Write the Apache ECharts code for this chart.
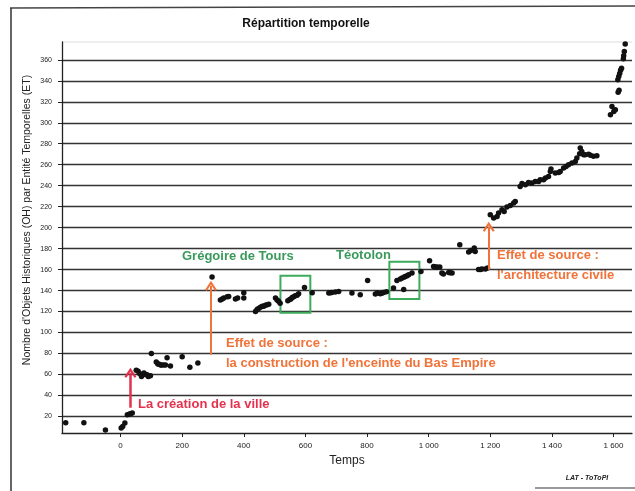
<!DOCTYPE html>
<html><head><meta charset="utf-8">
<script src="https://cdn.jsdelivr.net/npm/echarts@6.0.0/dist/echarts.min.js"></script>
<style>html,body{margin:0;padding:0;background:#fff}#c{width:635px;height:491px}</style>
</head><body><div id="c"></div>
<script>
// Temps (years) and Nombre d'OH per ET
const timeValues = [-178,-119,-49,2,7,14,22,28,32,38,
 51,57,62,68,72,76,80,86,90,97,
 100,116,121,124,130,133,140,146,151,162,
 200,225,251,
 297,324,330,335,346,351,373,380,400,400,
 438,443,448,454,460,465,470,476,481,
 503,508,513,518,
 543,549,553,557,562,567,573,578,597,622,
 676,681,686,697,708,
 751,778,802,
 827,834,843,848,854,863,
 886,897,908,914,919,921,924,930,935,946,
 975,1003,1016,1022,1027,1036,
 1043,1048,1065,1070,1076,
 1101,1130,1137,1148,1151,
 1162,1168,1173,1184,1191,
 1200,1211,1222,1227,1238,1245,1254,1265,1276,1281,
 1297,1303,1314,1324,1335,1346,1357,1362,1373,1379,1389,1395,1397,
 1411,1422,1427,1438,1446,1454,1465,1476,1481,1490,1492,1497,
 1503,1508,1519,1525,1535,1546,
 1590,1595,1601,1606,1615,1618,
 1614,1617,1620,1623,1626,
 1632,1633,1635,1638];
const objectCounts = [14,14,7,9,10.5,13.7,21.6,22,22.6,23.3,
 64,63,61,58,60,61.4,60,59.8,58,58.8,
 80,72,70,70,69,69,69,69,76,68,
 77,67,71,
 153,131,132,133,134,134.4,132,133,138,133,
 120,122,123,124,125,125,126,126.5,127,
 133,131,129.7,128,
 130.3,131.5,132,133.5,134,135,135.5,137,143,138,
 137.7,138,138.2,138.6,139.2,
 137.7,136,149.7,
 136.7,137.7,137,137.5,138.2,138.9,
 142.4,149.7,151,152,141,153,153.5,154.2,155,156.7,
 158.3,168.5,163,162.5,162.4,162.4,
 156.7,155.8,157.3,157,156.7,
 183.7,176.7,178.3,180.6,177.3,
 160,160.2,160.5,160.5,161.5,
 212.3,209.2,210.7,214,217,215.5,219.6,221,223.4,225,
 239.3,242,241,243,242.5,244,244,245.7,245.7,247.3,248.8,253.6,256,
 252,252.6,253.6,256.8,258.4,260,261.6,263,266.4,270.5,276,272.7,
 269.5,269.5,270,269,268,268.5,
 307.6,315.5,310.8,312.4,329,331,
 341,344,347,350,352,
 361,364,368,375];
const xTickValues = [0,200,400,600,800,1000,1200,1400,1600];
const yTickValues = [20,40,60,80,100,120,140,160,180,200,220,240,260,280,300,320,340,360];

const RED = '#e4324e', ORANGE = '#f0733a', GREEN = '#3a9a5c', BOXGREEN = '#3cab5c';
const FONT = 'Liberation Sans';
const arrowPath = 'path://M0,11 L6,0 L12,11 L10,12 L6,4.5 L2,12 Z';

const chart = echarts.init(document.getElementById('c'), null, {renderer:'canvas'});
const fmt = v => v >= 1000 ? Math.floor(v/1000) + ' ' + String(v%1000).padStart(3,'0') : String(v);

chart.setOption({
  animation:false,
  backgroundColor:'#fff',
  grid:{left:62,right:3,top:42,bottom:58},
  xAxis:{type:'value',min:-190,max:1660,
    axisLine:{onZero:false,lineStyle:{color:'#222',width:1.3}},
    axisTick:{customValues:xTickValues,length:4,lineStyle:{color:'#222'}},
    axisLabel:{customValues:xTickValues,formatter:fmt,fontSize:8,color:'#222',fontFamily:FONT,margin:9},
    splitLine:{show:false}},
  yAxis:{type:'value',min:4.2,max:377,
    axisLine:{show:true,onZero:false,lineStyle:{color:'#222',width:1.3}},
    axisTick:{show:true,customValues:yTickValues,length:4,lineStyle:{color:'#222'}},
    axisLabel:{customValues:yTickValues,fontSize:7,color:'#222',fontFamily:FONT,margin:10},
    splitLine:{show:true,lineStyle:{color:'#333',width:1.3}}},
  series:[{
    type:'scatter',
    data: timeValues.map((t,i)=>[t,objectCounts[i]]),
    symbolSize:5.5,
    itemStyle:{color:'#111',opacity:1},
    markLine:{silent:true,symbol:['none',arrowPath],symbolSize:[12,10],label:{show:false},
      data:[
        [{coord:[32,28.3],lineStyle:{color:RED,width:2.5,type:'solid'}},{coord:[32,61.7]}],
        [{coord:[293.5,78.8],lineStyle:{color:ORANGE,width:2,type:'solid'}},{coord:[293.5,144.6]}],
        [{coord:[1195,159.9],lineStyle:{color:ORANGE,width:2,type:'solid'}},{coord:[1195,200.9]}]
      ]},
    markArea:{silent:true,itemStyle:{color:'rgba(0,0,0,0)',borderColor:BOXGREEN,borderWidth:2},
      data:[
        [{coord:[519,118.9]},{coord:[616,154.2]}],
        [{coord:[872.5,131.9]},{coord:[970,167.5]}]
      ]}
  }],
  graphic:[
    {type:'line',shape:{x1:10,y1:8,x2:635,y2:6},style:{stroke:'#444',lineWidth:1.5}},
    {type:'line',shape:{x1:11,y1:8,x2:11,y2:491},style:{stroke:'#333',lineWidth:1.5}},
    {type:'line',shape:{x1:535,y1:488,x2:635,y2:488},style:{stroke:'#777',lineWidth:1.5}},
    {type:'line',shape:{x1:62,y1:42,x2:632,y2:42},style:{stroke:'#ddd',lineWidth:1}},
    {type:'text',x:306,y:24,style:{text:'Répartition temporelle',font:'bold 12px '+FONT,fill:'#111',textAlign:'center',textVerticalAlign:'middle'}},
    {type:'text',x:27,y:220,rotation:Math.PI/2,style:{text:"Nombre d'Objets Historiques (OH) par Entité Temporelles (ET)",font:'10.5px '+FONT,fill:'#222',textAlign:'center',textVerticalAlign:'middle'}},
    {type:'text',x:347,y:461,style:{text:'Temps',font:'12px '+FONT,fill:'#222',textAlign:'center',textVerticalAlign:'middle'}},
    {type:'text',x:587,y:478,style:{text:'LAT - ToToPI',font:'italic bold 7px '+FONT,fill:'#222',textAlign:'center',textVerticalAlign:'middle'}},
    {type:'text',x:138,y:404,style:{text:'La création de la ville',font:'bold 13px '+FONT,fill:RED,textVerticalAlign:'middle'}},
    {type:'text',x:226,y:343,style:{text:'Effet de source :',font:'bold 13px '+FONT,fill:ORANGE,textVerticalAlign:'middle'}},
    {type:'text',x:226,y:363,style:{text:"la construction de l'enceinte du Bas Empire",font:'bold 13px '+FONT,fill:ORANGE,textVerticalAlign:'middle'}},
    {type:'text',x:497,y:255,style:{text:'Effet de source :',font:'bold 13px '+FONT,fill:ORANGE,textVerticalAlign:'middle'}},
    {type:'text',x:497,y:275,style:{text:"l'architecture civile",font:'bold 13px '+FONT,fill:ORANGE,textVerticalAlign:'middle'}},
    {type:'text',x:182,y:256,style:{text:'Grégoire de Tours',font:'bold 13px '+FONT,fill:GREEN,textVerticalAlign:'middle'}},
    {type:'text',x:336,y:255,style:{text:'Téotolon',font:'bold 13px '+FONT,fill:GREEN,textVerticalAlign:'middle'}}
  ]
});
</script></body></html>
